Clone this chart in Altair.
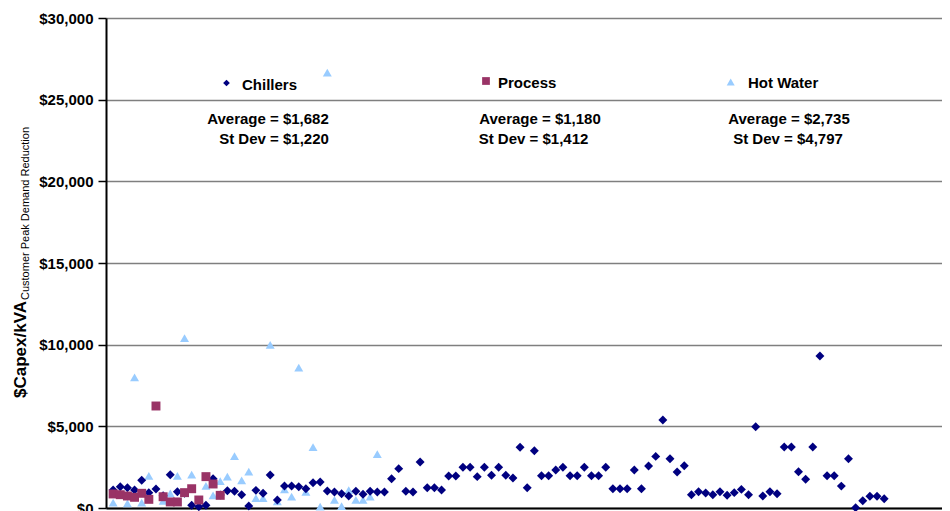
import altair as alt
import pandas as pd

# ---- data ----
chiller_values = [
    1100, 1300, 1240, 1100, 1700, 940, 1160, 750, 2030, 990,
    900, 165, 80, 165, 1790, 800, 1060, 1030, 815, 120,
    1080, 900, 2020, 490, 1350, 1350, 1300, 1180, 1550, 1590,
    1040, 980, 875, 735, 1020, 840, 1020, 980, 980, 1795,
    2410, 1020, 980, 2815, 1245, 1245, 1100, 1960, 1960, 2490,
    2490, 1920, 2490, 2000, 2490, 2000, 1840, 3715, 1245, 3510,
    1980, 1980, 2325, 2490, 1980, 1980, 2490, 1980, 1980, 2490,
    1180, 1180, 1180, 2325, 1180, 2570, 3160, 5390, 3020, 2200,
    2590, 815, 1000, 920, 815, 1000, 775, 940, 1140, 815,
    4980, 735, 1000, 875, 3735, 3735, 2220, 1755, 3735, 9305,
    1980, 1980, 1340, 3010, 20, 440, 725, 715, 570,
]
process_values = [860, 815, 735, 655, 900, 530, 6245, 690, 370, 370,
                  940, 1180, 490, 1920, 1470, 775]
hot_water_index = [1, 3, 4, 5, 6, 8, 9, 10, 11, 12,
                   14, 15, 16, 17, 18, 19, 20, 21, 22, 23,
                   24, 25, 26, 27, 28, 29, 30, 31, 32, 33,
                   34, 35, 36, 37, 38]
hot_water_values = [325, 290, 8000, 325, 1960, 430, 900, 1960, 10400, 2040,
                    1350, 780, 1650, 1920, 3180, 1690, 2220, 600, 600, 9980,
                    410, 1140, 700, 8600, 980, 3720, 80, 26650, 490, 120,
                    1100, 490, 490, 690, 3300]

series_names = ["Chillers", "Process", "Hot Water"]
series_colors = ["#000080", "#993366", "#99CCFF"]
series_shapes = ["diamond", "square", "triangle-up"]
averages = [1682, 1180, 2735]
st_devs = [1220, 1412, 4797]
y_ticks = [0, 5000, 10000, 15000, 20000, 25000, 30000]

FONT = "Liberation Sans"

rows = []
for i, v in zip(hot_water_index, hot_water_values):
    rows.append({"project": i, "capex": v, "series": "Hot Water"})
for i, v in enumerate(chiller_values, start=1):
    rows.append({"project": i, "capex": v, "series": "Chillers"})
for i, v in enumerate(process_values, start=1):
    rows.append({"project": i, "capex": v, "series": "Process"})
df = pd.DataFrame(rows)

points = alt.Chart(df).mark_point(filled=True, opacity=1, size=80).encode(
    x=alt.X("project:Q",
            scale=alt.Scale(domain=[0, 117.1], nice=False, zero=False),
            axis=alt.Axis(labels=False, ticks=False, grid=False, title=None,
                          domainColor="black", domainWidth=2)),
    y=alt.Y("capex:Q",
            scale=alt.Scale(domain=[0, 30000], nice=False),
            axis=alt.Axis(values=y_ticks, format="$,.0f", title=None,
                          labelFont=FONT, labelFontSize=15, labelFontWeight="bold",
                          labelColor="black", labelPadding=5,
                          tickColor="black", tickSize=8, tickWidth=1.5,
                          domainColor="black", domainWidth=2,
                          gridColor="#7f7f7f", gridWidth=1.5)),
    color=alt.Color("series:N", scale=alt.Scale(domain=series_names, range=series_colors), legend=None),
    shape=alt.Shape("series:N", scale=alt.Scale(domain=series_names, range=series_shapes), legend=None),
)

one = pd.DataFrame({"k": [0]})

def sym(shape, color, size, x, y):
    return alt.Chart(one).mark_point(filled=True, opacity=1, shape=shape, color=color, size=size).encode(
        x=alt.value(x), y=alt.value(y))

def txt(text, x, y, size=15, weight="bold", align="center", angle=0, baseline="middle"):
    return alt.Chart(one).mark_text(text=text, font=FONT, fontSize=size, fontWeight=weight,
                                    align=align, baseline=baseline, angle=angle, color="black").encode(
        x=alt.value(x), y=alt.value(y))

legend_layers = [
    sym(series_shapes[0], series_colors[0], 45, 120.5, 65),
    txt(series_names[0], 136, 67, align="left"),
    sym(series_shapes[1], series_colors[1], 60, 380, 63),
    txt(series_names[1], 392, 65, align="left"),
    sym(series_shapes[2], series_colors[2], 64, 624.7, 64),
    txt(series_names[2], 642, 65, align="left"),
]

stat_layers = [
    txt(f"Average = ${averages[0]:,}", 162, 101),
    txt(f"St Dev = ${st_devs[0]:,}", 168, 121),
    txt(f"Average = ${averages[1]:,}", 434, 101),
    txt(f"St Dev = ${st_devs[1]:,}", 427.5, 121),
    txt(f"Average = ${averages[2]:,}", 683, 101),
    txt(f"St Dev = ${st_devs[2]:,}", 682, 121),
]

title_layers = [
    txt("$Capex/kVA", -80, 380, size=17, align="left", angle=270, baseline="alphabetic"),
    txt("Customer Peak Demand Reduction", -77, 282, size=11, weight="normal", align="left",
        angle=270, baseline="alphabetic"),
]

chart = alt.layer(points, *legend_layers, *stat_layers, *title_layers).properties(
    width=836, height=490,
    padding={"left": 98, "top": 10, "right": 0, "bottom": 3},
    autosize=alt.AutoSizeParams(type="none"),
    background="white",
).configure_view(stroke=None)

chart.save("out.html", embed_options={"renderer": "svg", "actions": False})
